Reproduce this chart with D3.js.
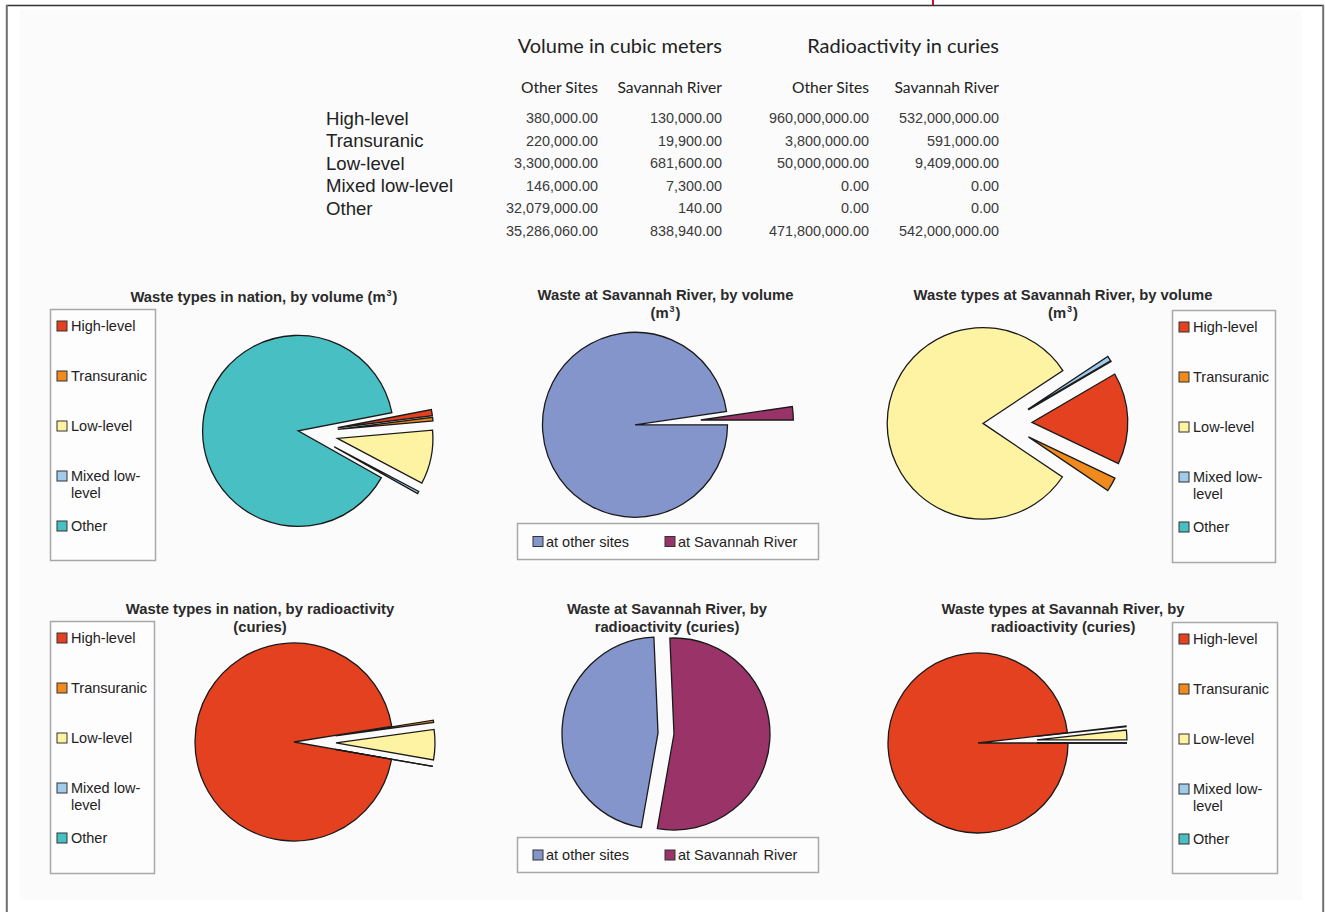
<!DOCTYPE html>
<html>
<head>
<meta charset="utf-8">
<script src="https://cdn.jsdelivr.net/npm/d3@7"></script>
<style>
  html, body { margin: 0; padding: 0; background: #ffffff; }
  svg { display: block; }
</style>
</head>
<body>
<svg id="chart" width="1325" height="912"></svg>
<script>
// ---------- data ----------
const categories = ["High-level", "Transuranic", "Low-level", "Mixed low-level", "Other"];
const volumeOtherSites = [380000, 220000, 3300000, 146000, 32079000];
const volumeSavannahRiver = [130000, 19900, 681600, 7300, 140];
const curiesOtherSites = [960000000, 3800000, 50000000, 0, 0];
const curiesSavannahRiver = [532000000, 591000, 9409000, 0, 0];
const columnTotals = [35286060, 838940, 471800000, 542000000];
const siteLabels = ["at other sites", "at Savannah River"];
const groupHeaders = ["Volume in cubic meters", "Radioactivity in curies"];
const columnHeaders = ["Other Sites", "Savannah River", "Other Sites", "Savannah River"];

// ---------- styling ----------
const typeColors = ["#e3411f", "#f0891e", "#fef3a3", "#a0cbea", "#48c0c3"];
const siteColors = ["#8495cc", "#9a3468"];
const sansFont = "'Liberation Sans', Arial, Helvetica, sans-serif";
const headFont = "Lato, 'Open Sans', sans-serif";

const svg = d3.select("#chart");

// page frame and panel
svg.append("rect").attr("x", 20).attr("y", 10).attr("width", 1282).attr("height", 890)
  .attr("fill", "#fbfbfb");
svg.append("line").attr("x1", 6).attr("x2", 1324).attr("y1", 5.5).attr("y2", 5.5)
  .attr("stroke", "#333").attr("stroke-width", 1.6);
svg.append("line").attr("x1", 6.8).attr("x2", 6.8).attr("y1", 5).attr("y2", 912)
  .attr("stroke", "#707070").attr("stroke-width", 2);
svg.append("line").attr("x1", 1323.2).attr("x2", 1323.2).attr("y1", 5).attr("y2", 912)
  .attr("stroke", "#707070").attr("stroke-width", 2);
svg.append("line").attr("x1", 933).attr("x2", 933).attr("y1", 0).attr("y2", 5)
  .attr("stroke", "#c8102e").attr("stroke-width", 2);

// ---------- summary table ----------
const fmt = d3.format(",.2f");
const colRight = [598, 722, 869, 999];
const table = svg.append("g");

table.selectAll("text.group").data(groupHeaders).join("text")
  .attr("class", "group")
  .attr("x", (d, i) => colRight[i * 2 + 1])
  .attr("y", 46).attr("dy", "0.35em")
  .attr("text-anchor", "end")
  .attr("font-family", headFont).attr("font-size", 20).attr("fill", "#222")
  .text(d => d);

table.selectAll("text.colhead").data(columnHeaders).join("text")
  .attr("class", "colhead")
  .attr("x", (d, i) => colRight[i])
  .attr("y", 88).attr("dy", "0.35em")
  .attr("text-anchor", "end")
  .attr("font-family", headFont).attr("font-size", 15.6).attr("fill", "#222")
  .text(d => d);

const rowY = i => 118 + i * 22.6;
table.selectAll("text.rowlab").data(categories).join("text")
  .attr("class", "rowlab")
  .attr("x", 326).attr("y", (d, i) => rowY(i)).attr("dy", "0.35em")
  .attr("font-family", sansFont).attr("font-size", 18.6).attr("fill", "#222")
  .text(d => d);

const tableColumns = [volumeOtherSites, volumeSavannahRiver, curiesOtherSites, curiesSavannahRiver];
tableColumns.forEach((col, c) => {
  const cells = col.concat([columnTotals[c]]);
  table.selectAll(null).data(cells).join("text")
    .attr("x", colRight[c]).attr("y", (d, i) => rowY(i)).attr("dy", "0.35em")
    .attr("text-anchor", "end")
    .attr("font-family", sansFont).attr("font-size", 14.4).attr("fill", "#3a3a3a")
    .text(d => fmt(d));
});

// ---------- pie charts ----------
const pies = [
  { title: ["Waste types in nation, by volume (m³)"], values: volumeOtherSites,
    labels: categories, colors: typeColors, cx: 308, cy: 432.5, r: 95.5, start: 79,
    explode: [30, 30, 30, 30, 10], titleX: 264, titleY: 297,
    legend: { type: "v", x: 50, y: 309, w: 105, h: 251 } },
  { title: ["Waste at Savannah River, by volume", "(m³)"], values: [columnTotals[0], columnTotals[1]],
    labels: siteLabels, colors: siteColors, cx: 635, cy: 424.8, r: 92.5, start: 90,
    explode: [0, 66], titleX: 665.5, titleY: 295,
    legend: { type: "h", x: 517, y: 523, w: 301, h: 36 } },
  { title: ["Waste types at Savannah River, by volume", "(m³)"], values: volumeSavannahRiver,
    labels: categories, colors: typeColors, cx: 1005, cy: 423.5, r: 95.8, start: 59.7,
    explode: [27, 27, 22, 27, 27], titleX: 1063, titleY: 295,
    legend: { type: "v", x: 1172, y: 310, w: 103, h: 252 } },
  { title: ["Waste types in nation, by radioactivity", "(curies)"], values: curiesOtherSites,
    labels: categories, colors: typeColors, cx: 294, cy: 742, r: 99, start: 100,
    explode: [0, 42, 42, 42, 42], titleX: 260, titleY: 609,
    legend: { type: "v", x: 50, y: 621, w: 104, h: 252 } },
  { title: ["Waste at Savannah River, by", "radioactivity (curies)"], values: [columnTotals[2], columnTotals[3]],
    labels: siteLabels, colors: siteColors, cx: 666, cy: 733.5, r: 96, start: 190,
    explode: [8, 8], titleX: 667, titleY: 609,
    legend: { type: "h", x: 517, y: 837, w: 301, h: 35 } },
  { title: ["Waste types at Savannah River, by", "radioactivity (curies)"], values: curiesSavannahRiver,
    labels: categories, colors: typeColors, cx: 978, cy: 743, r: 90, start: 90,
    explode: [0, 59, 59, 59, 59], titleX: 1063, titleY: 609,
    legend: { type: "v", x: 1172, y: 622, w: 105, h: 251 } }
];

// split a legend label onto several lines, breaking after spaces or hyphens
const measure = document.createElement("canvas").getContext("2d");
function wrapLabel(text, maxWidth, font) {
  measure.font = font;
  const tokens = text.match(/[^\s-]+-?\s*/g) || [text];
  const lines = [];
  let line = "";
  tokens.forEach(t => {
    const trial = line + t;
    if (line && measure.measureText(trial.trim()).width > maxWidth) {
      lines.push(line.trim());
      line = t;
    } else {
      line = trial;
    }
  });
  if (line) lines.push(line.trim());
  return lines;
}

// write a title line, raising the cube exponent as a small superscript
function writeTitle(sel, line) {
  const parts = line.split("³");
  sel.append("tspan").text(parts[0]);
  for (let k = 1; k < parts.length; k++) {
    sel.append("tspan").attr("font-size", 9).attr("dy", -6).attr("dx", 1).text("3");
    sel.append("tspan").attr("dy", 6).attr("dx", 1).text(parts[k]);
  }
}

pies.forEach(p => {
  const g = svg.append("g");

  // title
  g.selectAll("text.title").data(p.title).join("text")
    .attr("class", "title")
    .attr("x", p.titleX).attr("y", (d, i) => p.titleY + i * 17.5 + 5)
    .attr("text-anchor", "middle")
    .attr("font-family", sansFont).attr("font-weight", "bold")
    .attr("font-size", 14.8).attr("fill", "#2a2a2a")
    .each(function (d) { writeTitle(d3.select(this), d); });

  // slices
  const a0 = p.start * Math.PI / 180;
  const pieGen = d3.pie().sort(null).value(d => d.value)
    .startAngle(a0).endAngle(a0 + 2 * Math.PI);
  const arcGen = d3.arc().innerRadius(0).outerRadius(p.r);
  const slices = pieGen(p.values.map((v, i) => ({ value: v, index: i })));

  const pg = g.append("g").attr("transform", `translate(${p.cx},${p.cy})`);
  pg.selectAll("path").data(slices).join("path")
    .attr("transform", d => {
      const mid = (d.startAngle + d.endAngle) / 2;
      const e = p.explode[d.data.index];
      return `translate(${e * Math.sin(mid)},${-e * Math.cos(mid)})`;
    })
    .attr("d", arcGen)
    .attr("fill", d => p.colors[d.data.index])
    .attr("stroke", "#1a1a1a").attr("stroke-width", 1.3)
    .attr("stroke-linejoin", "miter");

  // legend
  const L = p.legend;
  const lg = g.append("g");
  lg.append("rect").attr("x", L.x + 0.5).attr("y", L.y + 0.5)
    .attr("width", L.w).attr("height", L.h)
    .attr("fill", "#fdfdfd").attr("stroke", "#a8a8a8").attr("stroke-width", 1.5);

  if (L.type === "v") {
    const items = lg.selectAll("g.item").data(p.labels).join("g")
      .attr("class", "item")
      .attr("transform", (d, i) => `translate(${L.x + 7},${L.y + 17 + i * 50})`);
    items.append("rect").attr("x", 0).attr("y", -5).attr("width", 10).attr("height", 10)
      .attr("fill", (d, i) => p.colors[i]).attr("stroke", "#333").attr("stroke-width", 1);
    items.append("text")
      .attr("font-family", sansFont).attr("font-size", 14.5).attr("fill", "#222")
      .each(function (d) {
        const lines = wrapLabel(d, L.w - 26, `14.5px ${sansFont}`);
        d3.select(this).selectAll("tspan").data(lines).join("tspan")
          .attr("x", 14).attr("y", (t, j) => j * 17).attr("dy", "0.35em")
          .text(t => t);
      });
  } else {
    const offsets = [16, 148];
    const items = lg.selectAll("g.item").data(p.labels).join("g")
      .attr("class", "item")
      .attr("transform", (d, i) => `translate(${L.x + offsets[i]},${L.y + L.h / 2 + 0.5})`);
    items.append("rect").attr("x", 0).attr("y", -5).attr("width", 10).attr("height", 10)
      .attr("fill", (d, i) => p.colors[i]).attr("stroke", "#333").attr("stroke-width", 1);
    items.append("text").attr("x", 13).attr("dy", "0.35em")
      .attr("font-family", sansFont).attr("font-size", 14.5).attr("fill", "#222")
      .text(d => d);
  }
});
</script>
</body>
</html>
